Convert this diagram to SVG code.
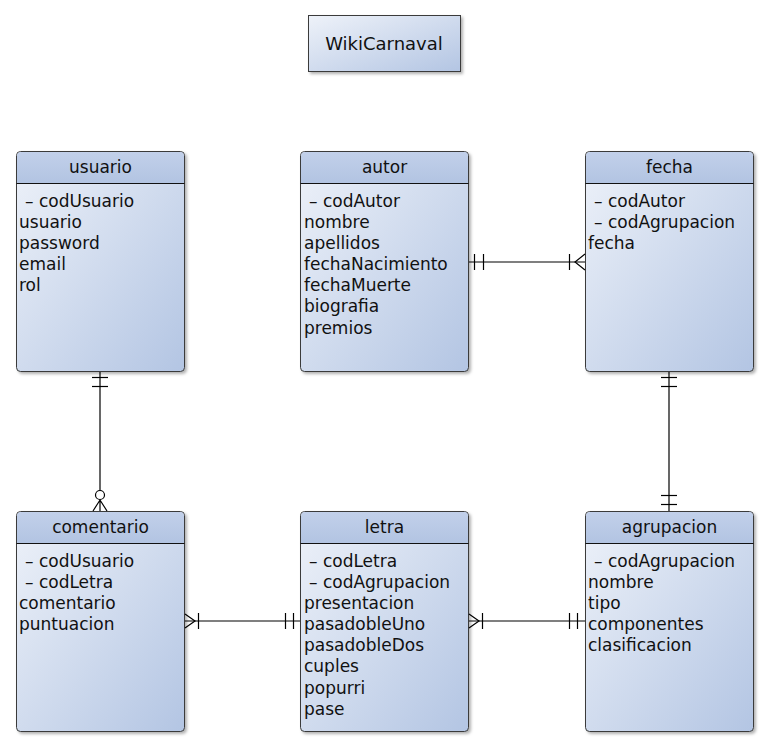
<svg xmlns="http://www.w3.org/2000/svg" width="768" height="747" viewBox="0 0 768 747">
<defs>
<linearGradient id="body" x1="0" y1="0" x2="1" y2="1">
<stop offset="0" stop-color="#eef2f9"/>
<stop offset="1" stop-color="#b3c5e3"/>
</linearGradient>
<linearGradient id="head" x1="0" y1="0" x2="0" y2="1">
<stop offset="0" stop-color="#c2d0ea"/>
<stop offset="1" stop-color="#b2c4e2"/>
</linearGradient>
<filter id="sh" x="-10%" y="-10%" width="130%" height="130%">
<feDropShadow dx="2" dy="2" stdDeviation="1.5" flood-color="#000" flood-opacity="0.3"/>
</filter>
</defs>
<style>
.box{fill:url(#body);stroke:#3a3a3a;stroke-width:1;filter:url(#sh)}
.hd{fill:url(#head)}
.sep{stroke:#111;stroke-width:1}
text{font-family:"DejaVu Sans","Liberation Sans",sans-serif;font-size:17px;fill:#111}
.t{text-anchor:middle}
.c line,.c path{stroke:#000;stroke-width:1.2;fill:none}
.c circle{stroke:#000;stroke-width:1.2;fill:#fff}
</style>
<rect width="768" height="747" fill="#fff"/>

<g id="title">
<rect x="308.5" y="15.5" width="152" height="56" fill="url(#body)" stroke="#3a3a3a" filter="url(#sh)"/>
<text class="t" x="384" y="50" style="font-size:18px">WikiCarnaval</text>
</g>

<g id="usuario">
<rect class="box" x="16.5" y="151.5" width="168" height="220" rx="4"/>
<path class="hd" d="M17,183 V156 a4,4 0 0 1 4,-4 H180 a4,4 0 0 1 4,4 V183 Z"/>
<line class="sep" x1="16.5" y1="183.5" x2="184.5" y2="183.5"/>
<text class="t" x="100.5" y="173">usuario</text>
<text x="25" y="207">– codUsuario</text>
<text x="19" y="228">usuario</text>
<text x="19" y="249">password</text>
<text x="19" y="270">email</text>
<text x="19" y="291">rol</text>
</g>

<g id="autor">
<rect class="box" x="300.5" y="151.5" width="168" height="220" rx="4"/>
<path class="hd" d="M301,183 V156 a4,4 0 0 1 4,-4 H464 a4,4 0 0 1 4,4 V183 Z"/>
<line class="sep" x1="300.5" y1="183.5" x2="468.5" y2="183.5"/>
<text class="t" x="384.5" y="173">autor</text>
<text x="309" y="207">– codAutor</text>
<text x="304" y="228">nombre</text>
<text x="304" y="249">apellidos</text>
<text x="304" y="270">fechaNacimiento</text>
<text x="304" y="291">fechaMuerte</text>
<text x="304" y="312">biografia</text>
<text x="304" y="334">premios</text>
</g>

<g id="fecha">
<rect class="box" x="585.5" y="151.5" width="168" height="220" rx="4"/>
<path class="hd" d="M586,183 V156 a4,4 0 0 1 4,-4 H749 a4,4 0 0 1 4,4 V183 Z"/>
<line class="sep" x1="585.5" y1="183.5" x2="753.5" y2="183.5"/>
<text class="t" x="669.5" y="173">fecha</text>
<text x="594" y="207">– codAutor</text>
<text x="594" y="228">– codAgrupacion</text>
<text x="588" y="249">fecha</text>
</g>

<g id="comentario">
<rect class="box" x="16.5" y="511.5" width="168" height="220" rx="4"/>
<path class="hd" d="M17,543 V516 a4,4 0 0 1 4,-4 H180 a4,4 0 0 1 4,4 V543 Z"/>
<line class="sep" x1="16.5" y1="543.5" x2="184.5" y2="543.5"/>
<text class="t" x="100.5" y="533">comentario</text>
<text x="25" y="567">– codUsuario</text>
<text x="25" y="588">– codLetra</text>
<text x="19" y="609">comentario</text>
<text x="19" y="630">puntuacion</text>
</g>

<g id="letra">
<rect class="box" x="300.5" y="511.5" width="168" height="220" rx="4"/>
<path class="hd" d="M301,543 V516 a4,4 0 0 1 4,-4 H464 a4,4 0 0 1 4,4 V543 Z"/>
<line class="sep" x1="300.5" y1="543.5" x2="468.5" y2="543.5"/>
<text class="t" x="384.5" y="533">letra</text>
<text x="309" y="567">– codLetra</text>
<text x="309" y="588">– codAgrupacion</text>
<text x="304" y="609">presentacion</text>
<text x="304" y="630">pasadobleUno</text>
<text x="304" y="651">pasadobleDos</text>
<text x="304" y="672">cuples</text>
<text x="304" y="694">popurri</text>
<text x="304" y="715">pase</text>
</g>

<g id="agrupacion">
<rect class="box" x="585.5" y="511.5" width="168" height="220" rx="4"/>
<path class="hd" d="M586,543 V516 a4,4 0 0 1 4,-4 H749 a4,4 0 0 1 4,4 V543 Z"/>
<line class="sep" x1="585.5" y1="543.5" x2="753.5" y2="543.5"/>
<text class="t" x="669.5" y="533">agrupacion</text>
<text x="594" y="567">– codAgrupacion</text>
<text x="588" y="588">nombre</text>
<text x="588" y="609">tipo</text>
<text x="588" y="630">componentes</text>
<text x="588" y="651">clasificacion</text>
</g>

<g id="connectors" class="c">
<!-- usuario - comentario -->
<line x1="100" y1="372" x2="100" y2="491"/>
<line x1="92" y1="377.5" x2="108" y2="377.5"/>
<line x1="92" y1="386.5" x2="108" y2="386.5"/>
<circle cx="100" cy="495" r="4.5"/>
<path d="M93,511 L100,500 L107,511 M100,500 V511"/>
<!-- autor - fecha -->
<line x1="469" y1="262" x2="585" y2="262"/>
<line x1="474.5" y1="254" x2="474.5" y2="270"/>
<line x1="483.5" y1="254" x2="483.5" y2="270"/>
<line x1="569.5" y1="254" x2="569.5" y2="270"/>
<path d="M585,254 L575,262 L585,270"/>
<!-- fecha - agrupacion -->
<line x1="669" y1="372" x2="669" y2="511"/>
<line x1="661" y1="377.5" x2="677" y2="377.5"/>
<line x1="661" y1="386.5" x2="677" y2="386.5"/>
<line x1="661" y1="495.5" x2="677" y2="495.5"/>
<line x1="661" y1="504.5" x2="677" y2="504.5"/>
<!-- comentario - letra -->
<line x1="185" y1="621" x2="300" y2="621"/>
<path d="M185,614 L195,621 L185,628"/>
<line x1="198.5" y1="613" x2="198.5" y2="629"/>
<line x1="285.5" y1="613" x2="285.5" y2="629"/>
<line x1="293.5" y1="613" x2="293.5" y2="629"/>
<!-- letra - agrupacion -->
<line x1="469" y1="621" x2="585" y2="621"/>
<path d="M469,614 L479,621 L469,628"/>
<line x1="482.5" y1="613" x2="482.5" y2="629"/>
<line x1="569.5" y1="613" x2="569.5" y2="629"/>
<line x1="577.5" y1="613" x2="577.5" y2="629"/>
</g>
</svg>
